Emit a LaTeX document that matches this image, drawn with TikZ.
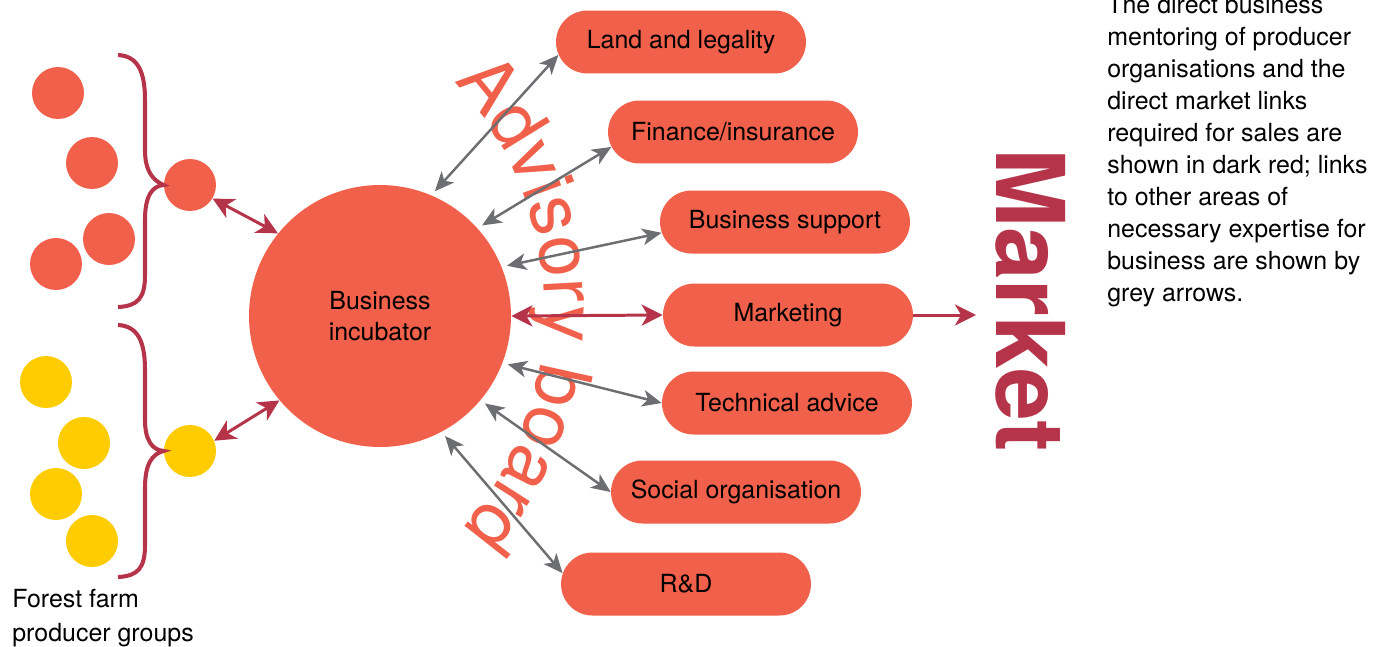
\documentclass[tikz,border=0pt]{standalone}
\usepackage{fontspec}
\setmainfont{TeX Gyre Heros}
\usepackage{tikz}
\usetikzlibrary{arrows.meta,shapes.misc,decorations.text}
\definecolor{tomato}{RGB}{240,96,74}
\definecolor{wine}{RGB}{181,52,74}
\definecolor{slate}{RGB}{109,110,113}
\definecolor{sun}{RGB}{255,204,0}

\begin{document}
\begin{tikzpicture}[x=0.02cm,y=-0.02cm,
  every node/.style={inner sep=0pt},
  box/.style={rounded rectangle, fill=tomato, minimum width=5cm, minimum height=1.26cm, font=\fontsize{14.2}{18.2}\selectfont},
  dot/.style={circle, fill=tomato, minimum size=1.04cm},
  ydot/.style={dot, fill=sun},
  greyarrow/.style={slate, line width=1.4pt, {Stealth[length=11pt,width=9.5pt,inset=3pt]}-{Stealth[length=11pt,width=9.5pt,inset=3pt]}, shorten <=3pt},
  link/.style={wine, line width=1.7pt, {Stealth[length=12pt,width=12pt,inset=3.5pt]}-{Stealth[length=12pt,width=12pt,inset=3.5pt]}},
  onelink/.style={wine, line width=1.7pt, -{Stealth[length=12pt,width=12pt,inset=3.5pt]}},
  brace/.style={wine, line width=2.3pt}]
\useasboundingbox (0,0) rectangle (1391,646);

% producer groups
\node[dot] (r1) at (58,93) {};
\node[dot] (r2) at (92,163) {};
\node[dot] (r3) at (109,239) {};
\node[dot] (r4) at (56,264) {};
\node[ydot] (y1) at (46,382) {};
\node[ydot] (y2) at (84,443) {};
\node[ydot] (y3) at (56,494) {};
\node[ydot] (y4) at (92,541) {};
\node[dot] (g1) at (190,185) {};
\node[ydot] (g2) at (190,451) {};
\draw[brace] (118,55) .. controls (138,56) and (145,72) .. (145,100) -- (145,150)
  .. controls (145,170) and (152,180) .. (g1.west)
  .. controls (152,186) and (145,196) .. (145,220) -- (145,275)
  .. controls (145,298) and (138,306) .. (118,307);
\draw[brace] (118,325) .. controls (138,326) and (145,342) .. (145,370) -- (145,420)
  .. controls (145,440) and (152,450) .. (g2.west)
  .. controls (152,454) and (145,464) .. (145,488) -- (145,545)
  .. controls (145,568) and (138,576) .. (118,577);
\node[anchor=base west, align=left, font=\fontsize{14.2}{18.8}\selectfont] (groups) at (12,641) {Forest farm\\producer groups};

% incubator and services
\node[circle, fill=tomato, minimum size=5.24cm, align=center, font=\fontsize{14.2}{17.6}\selectfont] (inc) at (380,316) {Business\\incubator};
\node[box] (land) at (681,42) {Land and legality};
\node[box] (fin) at (733,132) {Finance/insurance};
\node[box] (supp) at (785,222) {Business support};
\node[box] (mark) at (788,315) {Marketing};
\node[box] (tech) at (787,403) {Technical advice};
\node[box] (soc) at (736,492) {Social organisation};
\node[box] (rd) at (686,584) {R\&D};

\path[decorate, decoration={text along path, text align=center,
  text={|\color{tomato}\fontsize{42}{42}\selectfont|Advisory board}}]
  (215,310) ++(-44:330) arc[start angle=-44, end angle=42, radius=330];

\draw[greyarrow] (inc.67) -- (land.186);
\draw[greyarrow] (inc.42) -- (fin.187);
\draw[greyarrow] (inc.22) -- (supp.185);
\draw[link] (inc.east) -- (mark.west);
\draw[greyarrow] (inc.-21) -- (tech.west);
\draw[greyarrow] (inc.-40) -- (soc.west);
\draw[greyarrow] (inc.-62) -- (rd.175);
\draw[link] (g1.-31) -- (inc.141);
\draw[link] (g2.23) -- (inc.220);

% market
\node[rotate=-90, text=wine, font=\fontsize{54}{54}\selectfont\bfseries] (market) at (1031,300) {Market};
\coordinate (tomarket) at (976,315);
\draw[onelink] (mark.east) -- (tomarket);

\node[anchor=base west, align=left, font=\fontsize{14.2}{18.2}\selectfont] (note) at (1107,301) {The direct business\\mentoring of producer\\organisations and the\\direct market links\\required for sales are\\shown in dark red; links\\to other areas of\\necessary expertise for\\business are shown by\\grey arrows.};
\end{tikzpicture}
\end{document}
